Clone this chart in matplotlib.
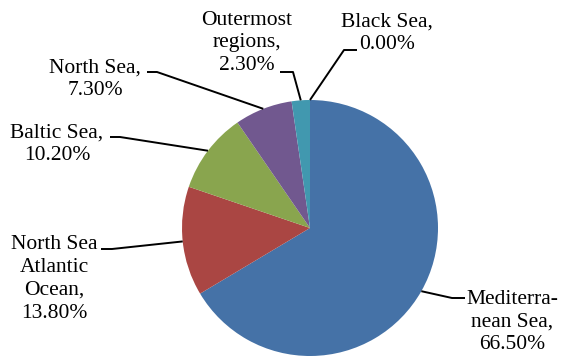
import numpy as np
import matplotlib.pyplot as plt

plt.rcParams['font.family'] = ['Liberation Serif', 'DejaVu Serif']

labels = ['Mediterra-\nnean Sea,', 'North Sea\nAtlantic\nOcean,', 'Baltic Sea,',
          'North Sea,', 'Outermost\nregions,', 'Black Sea,']
shares = [66.5, 13.8, 10.2, 7.3, 2.3, 0.0]
colors = ['#4572A7', '#AA4643', '#89A54E', '#71588F', '#4198AF', '#DB843D']

W, H = 563, 356
cx, cy, R = 310, 128, 128

# label layout in pixel coords (y from top): text centre, elbow, line end
text_pos = [(512, 322), (54, 279), (57, 144), (95, 79), (247, 43), (387, 33)]
elbows = [(452, 298), (112, 249), (120, 137), (157, 72), (293, 72), (344, 50)]
ends = [(465, 298), (101, 249), (110, 137), (147, 72), (280, 72), (357, 50)]

fig = plt.figure(figsize=(W / 100, H / 100), dpi=100)
ax = fig.add_axes([0, 0, 1, 1])

wedges, _ = ax.pie(shares, colors=colors, startangle=90, counterclock=False,
                   center=(cx, cy), radius=R, frame=True,
                   wedgeprops=dict(linewidth=0))
ax.set_xlim(0, W)
ax.set_ylim(0, H)
ax.set_aspect('equal')
ax.axis('off')

for w, lab, val, tp, el, en in zip(wedges, labels, shares, text_pos, elbows, ends):
    ang = np.deg2rad((w.theta1 + w.theta2) / 2)
    px, py = cx + R * np.cos(ang), cy + R * np.sin(ang)
    ax.plot([px, el[0], en[0]], [py, H - el[1], H - en[1]],
            color='black', lw=1.4, solid_capstyle='butt')
    ax.text(tp[0], H - tp[1], f'{lab}\n{val:.2f}%', ha='center', va='center',
            multialignment='center', fontsize=15.5, linespacing=1.27)

fig.savefig('out.png', dpi=100)
